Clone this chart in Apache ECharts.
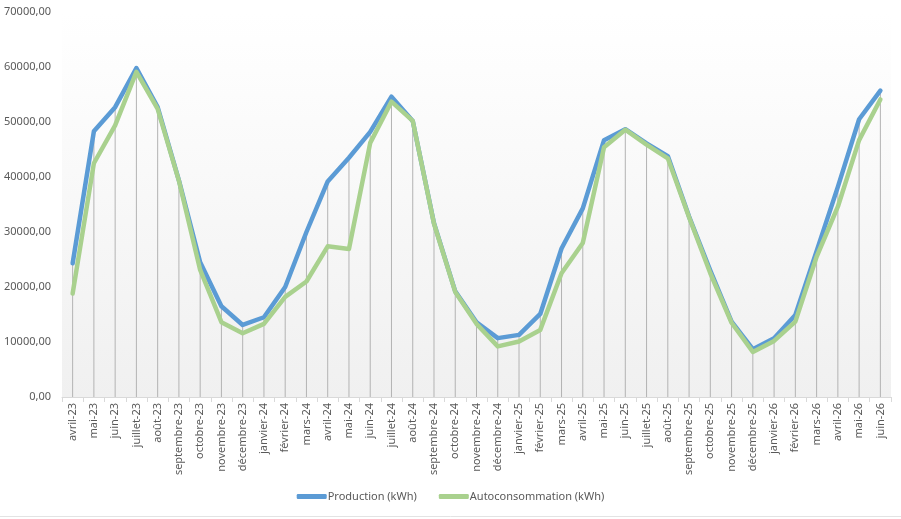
<!DOCTYPE html>
<html>
<head>
<meta charset="utf-8">
<script src="https://cdn.jsdelivr.net/npm/echarts@6/dist/echarts.min.js"></script>
<style>
  html, body { margin: 0; padding: 0; background: #fff; }
  #chart { width: 901px; height: 519px; }
</style>
</head>
<body>
<div id="chart"></div>
<script>
var months = ['avril-23', 'mai-23', 'juin-23', 'juillet-23', 'août-23', 'septembre-23', 'octobre-23', 'novembre-23', 'décembre-23',
  'janvier-24', 'février-24', 'mars-24', 'avril-24', 'mai-24', 'juin-24', 'juillet-24', 'août-24', 'septembre-24', 'octobre-24', 'novembre-24', 'décembre-24',
  'janvier-25', 'février-25', 'mars-25', 'avril-25', 'mai-25', 'juin-25', 'juillet-25', 'août-25', 'septembre-25', 'octobre-25', 'novembre-25', 'décembre-25',
  'janvier-26', 'février-26', 'mars-26', 'avril-26', 'mai-26', 'juin-26'];

var production = [24300, 48300, 52700, 59800, 52700, 39400, 24500, 16500, 13100,
  14500, 20000, 30000, 39200, 43500, 48200, 54600, 50200, 31600, 19200, 13600, 10700,
  11300, 15100, 27000, 34300, 46700, 48700, 46100, 43800, 32800, 23000, 13700, 8700,
  10700, 14900, 26500, 38200, 50500, 55700];

var autoconso = [18800, 42500, 49400, 59100, 52400, 39300, 23100, 13600, 11600,
  13300, 18200, 21000, 27400, 26900, 46200, 53700, 50200, 31500, 19100, 13300, 9200,
  10100, 12200, 22500, 28000, 45400, 48600, 45900, 43400, 32700, 22500, 13500, 8200,
  10200, 13700, 25500, 34600, 46700, 54100];

var yTicks = { min: 0, max: 70000, interval: 10000 };

// lignes de projection : du point le plus haut jusqu'à l'axe
var dropLines = [];
for (var i = 0; i < months.length; i++) {
  dropLines.push(Math.max(production[i], autoconso[i]));
}

var chart = echarts.init(document.getElementById('chart'));

var option = {
  animation: false,
  textStyle: { fontFamily: 'Noto Sans' },
  grid: {
    left: 62,
    right: 10,
    top: 12,
    bottom: 122,
    show: true,
    borderWidth: 0,
    backgroundColor: new echarts.graphic.LinearGradient(0, 0, 0, 1, [
      { offset: 0, color: '#ffffff' },
      { offset: 0.15, color: '#fdfdfd' },
      { offset: 1, color: '#f0f0f0' }
    ])
  },
  legend: {
    data: ['Production (kWh)', 'Autoconsommation (kWh)'],
    bottom: 12,
    left: 'center',
    icon: 'roundRect',
    itemWidth: 30,
    itemHeight: 5,
    itemGap: 22,
    textStyle: { color: '#595959', fontSize: 11, padding: [0, 0, 0, -4] }
  },
  xAxis: {
    type: 'category',
    data: months,
    boundaryGap: true,
    axisLine: { lineStyle: { color: '#d9d9d9' } },
    axisTick: { show: true, length: 5, lineStyle: { color: '#d9d9d9' } },
    axisLabel: { rotate: 90, color: '#595959', fontSize: 11, margin: 6, interval: 0 },
    splitLine: { show: false }
  },
  yAxis: {
    type: 'value',
    min: yTicks.min,
    max: yTicks.max,
    interval: yTicks.interval,
    axisLine: { show: false },
    axisTick: { show: false },
    splitLine: { show: false },
    axisLabel: {
      color: '#595959',
      fontSize: 11,
      margin: 11,
      formatter: function (v) { return v.toFixed(2).replace('.', ','); }
    }
  },
  series: [
    {
      name: 'drop',
      type: 'bar',
      data: dropLines,
      barWidth: 1,
      itemStyle: { color: '#b3b3b3' },
      silent: true,
      z: 1
    },
    {
      name: 'Production (kWh)',
      type: 'line',
      data: production,
      symbol: 'none',
      color: '#5b9bd5',
      lineStyle: { width: 4.5, color: '#5b9bd5', cap: 'round', join: 'round' },
      z: 3
    },
    {
      name: 'Autoconsommation (kWh)',
      type: 'line',
      data: autoconso,
      symbol: 'none',
      color: '#a9d18e',
      lineStyle: { width: 4.5, color: '#a9d18e', cap: 'round', join: 'round' },
      z: 4
    }
  ],
  graphic: [
    {
      type: 'line',
      shape: { x1: 0, y1: 516.5, x2: 901, y2: 516.5 },
      style: { stroke: '#e3e3e3', lineWidth: 1 }
    }
  ]
};

chart.setOption(option);
</script>
</body>
</html>
